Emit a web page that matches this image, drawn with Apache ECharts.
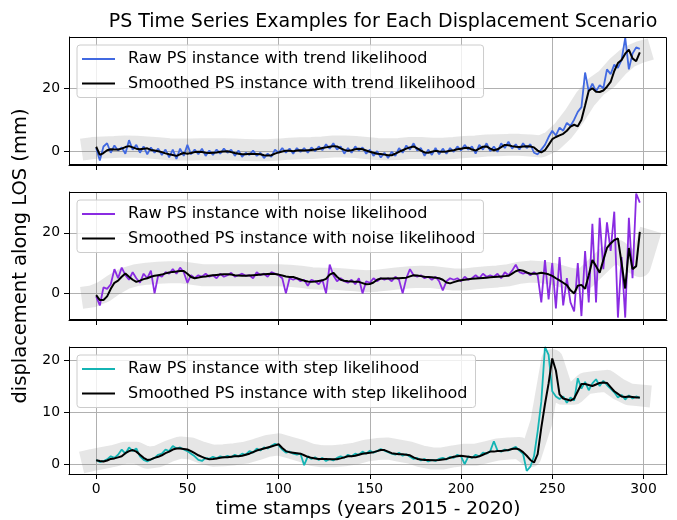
<!DOCTYPE html>
<html><head><meta charset="utf-8">
<script src="https://cdn.jsdelivr.net/npm/echarts@6/dist/echarts.min.js"></script>
<style>html,body{margin:0;padding:0;background:#fff}#c{width:677px;height:520px}</style>
</head><body><div id="c"></div>
<script>
// ---------- data ----------
const timeStamps = [
0,2,4,6,8,10,12,14,16,18, 20,22,24,26,28,30,32,34,36,38,
40,42,44,46,48,50,52,54,56,58, 60,62,64,66,68,70,72,74,76,78,
80,82,84,86,88,90,92,94,96,98, 100,102,104,106,108,110,112,114,116,118,
120,122,124,126,128,130,132,134,136,138, 140,142,144,146,148,150,152,154,156,158,
160,162,164,166,168,170,172,174,176,178, 180,182,184,186,188,190,192,194,196,198,
200,202,204,206,208,210,212,214,216,218, 220,222,224,226,228,230,232,234,236,238,
240,242,244,246,248,250,252,254,256,258, 260,262,264,266,268,270,272,274,276,278,
280,282,284,286,288,290,292,294,296,298];

const rawTrend = [
1.0,-3.0,1.5,2.5,-0.5,1.8,0.2,1.2,-0.8,3.5,
0.5,2.0,-0.5,1.5,-1.0,1.2,-0.5,0.8,-1.2,0.5,
-2.0,0.5,-2.5,0.8,-1.5,2.0,-1.0,0.5,-1.0,0.8,
-1.5,0.2,-1.2,0.5,-0.8,0.8,-0.5,0.5,-1.5,0.2,
-1.8,-0.5,-1.2,0.2,-1.5,-0.5,-2.2,-0.8,-1.8,0.5,
-0.5,1.0,-0.5,0.8,-0.8,1.0,-0.2,1.0,-0.5,1.2,
0.0,1.5,0.3,2.2,0.8,2.5,0.5,1.5,-0.8,1.0,
-0.5,1.5,0.2,1.2,-0.8,0.5,-1.5,0.0,-2.0,-0.5,
-2.2,-0.2,-1.5,1.0,-0.5,1.8,0.5,2.5,0.2,1.0,
-1.5,0.5,-1.2,1.0,-1.0,0.8,-0.8,1.0,-0.2,1.5,
0.2,2.0,0.5,1.5,-0.8,2.0,0.5,2.5,0.0,1.5,
-0.2,2.5,1.0,3.0,0.8,2.2,0.5,2.5,1.0,2.2,
-0.5,-1.0,0.5,2.0,4.5,6.5,5.0,7.5,6.5,9.0,
8.0,10.0,12.5,14.0,25.0,19.0,21.5,19.0,21.0,20.0,
26.0,24.5,27.5,26.5,29.0,36.0,26.0,31.0,33.0,32.5];

const smoothTrend = [
1.4,-1.2,-0.6,0.3,0.6,0.5,0.5,0.8,1.3,1.6,
1.2,0.8,0.6,0.8,0.9,0.4,0.2,0.0,-0.3,-0.7,
-1.0,-1.2,-1.5,-1.0,-0.6,-0.8,-0.6,-0.3,-0.2,-0.3,
-0.5,-0.6,-0.5,-0.4,-0.2,-0.1,0.0,-0.3,-0.6,-0.8,
-1.0,-1.0,-0.8,-0.9,-0.9,-1.0,-1.3,-1.4,-1.3,-0.8,
-0.4,-0.1,0.1,0.1,0.0,0.2,0.3,0.2,0.3,0.4,
0.5,0.7,1.0,1.2,1.4,1.6,1.5,0.9,0.4,0.1,
0.3,0.6,0.8,0.6,0.2,-0.2,-0.5,-0.8,-0.9,-1.1,
-1.3,-1.3,-0.8,-0.2,0.3,0.8,1.2,1.5,0.9,0.2,
-0.4,-0.5,-0.2,0.1,-0.1,-0.2,-0.1,0.1,0.3,0.6,
0.8,1.0,1.1,0.5,0.2,0.8,1.4,1.5,0.8,0.3,
0.6,1.3,2.0,1.9,1.6,1.4,1.3,1.5,1.6,1.5,
1.2,0.2,-0.4,0.3,2.0,3.8,4.5,5.0,5.5,6.5,
7.8,8.4,7.9,10.0,14.5,19.2,20.0,18.9,18.8,19.3,
20.5,22.0,25.5,28.0,29.0,31.0,32.3,29.5,28.6,31.4];

const rawNoise = [
-1.0,-4.0,2.0,1.5,3.0,8.0,5.0,8.5,6.0,4.5,
7.0,5.0,3.5,6.5,5.0,7.5,0.0,6.0,5.5,7.0,
6.5,8.0,6.5,8.5,7.0,3.5,6.0,5.0,6.0,5.5,
6.5,5.5,6.0,5.0,6.5,5.5,6.0,6.8,5.5,6.0,
6.5,5.8,6.0,5.0,7.0,6.0,6.5,5.5,7.0,6.5,
6.0,5.0,0.0,5.0,4.5,5.0,4.0,4.5,2.5,4.5,
4.0,3.0,4.5,0.0,9.5,6.0,4.0,5.0,4.0,3.5,
4.5,3.0,5.0,0.0,4.0,3.5,5.0,4.0,5.0,4.5,
5.0,4.0,5.5,4.5,0.0,5.0,8.0,6.0,5.5,6.0,
5.0,5.5,4.5,5.5,4.0,1.0,4.0,5.0,4.5,5.0,
4.0,5.5,4.5,5.0,6.0,5.0,6.5,5.5,6.0,5.5,
6.5,5.0,7.0,6.0,7.5,9.5,7.0,6.5,7.0,6.0,
7.0,6.0,-3.0,11.0,-2.0,10.0,-5.0,12.0,-4.0,5.0,
-3.0,-6.0,10.0,-7.5,14.0,-3.0,23.0,-3.0,25.0,8.0,
23.5,14.0,27.0,-8.0,12.0,-8.0,25.0,5.0,33.0,30.0];

const smoothNoise = [
-0.6,-2.2,-2.2,-1.0,1.5,3.5,4.2,5.5,6.6,5.5,
4.5,3.8,4.2,4.7,5.0,5.5,5.8,6.0,6.2,6.6,
6.9,7.1,7.2,7.4,7.4,6.5,5.4,5.0,5.2,5.5,
5.6,5.8,6.0,6.1,6.2,6.3,6.3,6.2,6.0,5.9,
5.8,5.8,5.9,6.0,6.1,6.2,6.3,6.4,6.5,6.4,
6.2,5.9,5.6,5.4,5.4,5.0,4.6,4.2,3.9,3.8,
3.9,4.1,4.3,4.8,6.2,6.8,5.5,4.5,4.2,4.0,
3.9,3.8,3.8,3.4,3.0,3.1,3.6,4.5,4.9,4.9,
4.9,4.9,5.0,5.0,5.1,5.2,5.6,6.0,5.9,5.7,
5.5,5.4,5.3,5.2,5.0,4.5,3.6,3.3,3.7,4.1,
4.3,4.5,4.7,4.8,4.9,5.0,5.1,5.2,5.3,5.4,
5.5,5.6,5.7,5.8,6.5,7.3,7.7,7.5,6.9,6.5,
6.5,6.6,6.8,6.6,6.3,5.8,5.0,4.3,3.5,2.7,
1.0,0.0,2.5,2.8,1.5,6.0,11.0,9.0,6.8,11.0,
15.0,16.5,17.6,18.2,10.0,1.6,15.0,8.0,9.0,20.3];

const rawStep = [
0.8,0.4,0.6,0.9,1.5,1.2,1.8,2.8,2.0,3.2,
2.5,3.0,1.5,0.8,0.5,0.9,1.2,1.8,2.0,2.8,
2.5,3.5,3.0,3.2,2.8,2.5,2.0,1.5,0.8,0.6,
1.2,1.0,1.4,1.1,1.5,1.3,1.6,1.3,1.8,1.5,
2.0,1.8,2.5,2.2,3.0,2.6,3.2,3.0,3.5,3.9,
3.6,2.8,2.2,2.4,2.0,1.8,2.0,-0.2,1.5,1.0,
1.3,0.8,1.2,0.6,1.0,0.7,1.2,1.5,1.2,1.8,
1.5,2.0,1.8,2.4,2.0,2.6,2.2,2.5,2.9,2.6,
2.3,2.0,1.8,2.2,1.6,1.9,1.4,1.0,1.2,0.7,
1.0,0.5,0.8,0.6,1.0,1.2,0.9,1.4,1.2,1.8,
1.5,0.0,1.5,1.2,1.8,1.5,2.2,2.0,2.5,4.4,
2.6,2.4,2.8,2.6,3.0,3.3,2.6,2.0,-1.3,-0.5,
1.5,6.3,12.0,22.5,21.0,14.0,13.0,12.5,13.0,11.8,
12.8,12.2,16.5,14.5,15.8,14.2,15.5,16.3,15.0,16.0,
15.2,14.5,13.8,12.8,13.3,12.4,13.2,12.6,13.0,12.7];

const smoothStep = [
0.76,0.6,0.5,0.7,1.0,1.1,1.3,1.5,2.1,2.5,
2.7,2.4,1.8,1.2,0.8,0.9,1.2,1.4,1.7,2.1,
2.4,2.8,3.0,3.0,2.9,2.8,2.5,2.1,1.7,1.4,
1.1,0.95,1.0,1.1,1.2,1.3,1.3,1.4,1.5,1.5,
1.6,1.8,2.0,2.3,2.6,2.8,3.0,3.2,3.4,3.6,
3.8,3.1,2.5,2.3,2.2,2.1,2.0,1.7,1.4,1.2,
1.1,1.0,1.0,1.0,0.95,0.95,0.95,1.1,1.3,1.5,
1.5,1.6,1.8,2.0,2.1,2.2,2.3,2.5,2.7,2.7,
2.4,2.1,2.0,1.9,1.9,1.8,1.7,1.3,1.0,0.9,
0.8,0.8,0.76,0.76,0.8,0.9,1.0,1.2,1.4,1.5,
1.6,1.5,1.4,1.3,1.3,1.5,1.8,2.1,2.4,2.4,
2.5,2.5,2.6,2.7,2.9,3.0,2.8,2.3,1.6,0.8,
0.3,1.9,7.0,11.5,15.5,20.3,18.0,13.4,12.6,12.4,
12.2,12.6,14.0,15.4,15.4,15.2,15.0,15.3,15.6,15.7,
15.6,14.8,14.0,13.5,13.0,12.9,13.0,12.9,12.8,12.8];

// grey envelope drawn behind each panel
const bandX = [-8,-2,4,10,16,22,28,34,40,46,52,58,64,70,76,82,88,94,100,106,112,118,124,130,136,142,148,154,160,166,172,178,184,190,196,202,208,214,220,226,232,238,244,250,256,262,268,274,280,286,292,298,304];
const bandTrend = [0.5,1.0,1.2,1.3,1.5,1.4,1.2,0.9,0.6,0.5,0.5,0.6,0.6,0.6,0.5,0.4,0.3,0.3,0.5,0.8,0.9,1.0,1.2,1.5,1.5,1.3,1.0,0.7,0.6,0.7,1.0,1.0,0.8,0.8,1.0,1.3,1.5,1.8,1.9,2.0,2.0,1.8,1.5,3.2,6.5,11.0,16.5,20.5,23.0,27.0,30.0,31.5,32.5];
const bandNoise = [-1.5,-1.0,0.5,3.0,5.0,6.0,6.5,6.8,7.0,7.0,6.5,6.0,6.0,6.0,6.0,6.0,6.0,6.0,6.0,5.8,5.5,5.0,4.8,4.8,4.6,4.3,4.0,4.2,4.6,5.0,5.3,5.5,5.4,5.0,4.6,4.6,5.0,5.3,5.6,6.0,6.8,7.2,7.0,6.5,5.5,4.5,5.0,8.5,12.0,14.0,11.0,9.0,21.0];
const bandStep = [0.3,0.8,1.2,1.6,2.2,2.2,1.2,1.5,2.5,3.2,3.0,2.2,1.6,1.7,1.9,2.2,2.8,3.5,3.8,3.2,2.6,1.8,1.5,1.5,1.7,2.0,2.6,2.9,3.0,2.6,2.2,1.5,1.1,1.1,1.5,1.8,1.8,2.3,2.8,3.0,3.1,1.5,8.0,20.0,13.5,13.5,15.5,15.8,16.0,14.5,13.4,13.2,13.0];

const xTicks = [0,50,100,150,200,250,300];
const yTicks = [[0,20],[0,20],[0,10,20]];

const seriesNames = [
  ['Raw PS instance with trend likelihood','Smoothed PS instance with trend likelihood'],
  ['Raw PS instance with noise likelihood','Smoothed PS instance with noise likelihood'],
  ['Raw PS instance with step likelihood','Smoothed PS instance with step likelihood']
];
const rawSets = [rawTrend, rawNoise, rawStep];
const smoothSets = [smoothTrend, smoothNoise, smoothStep];
const bandSets = [bandTrend, bandNoise, bandStep];
const rawColors = ['#4169e1','#8a2be2','#14b4b4'];

// ---------- layout ----------
const FONT = 'DejaVu Sans';
const L = 69, W = 598, H = 128;
const tops = [37, 192, 347];
const yMin = [-4.4, -8.8, -1.9], yMax = [36.3, 33.5, 22.5];

function pairs(xs, ys){ return xs.map((x,i)=>[x, ys[i]]); }

const grids = [], xAxes = [], yAxes = [], series = [], legends = [], frames = [];
for (let i = 0; i < 3; i++) {
  grids.push({left: L, top: tops[i], width: W, height: H, containLabel: false});
  xAxes.push({
    type: 'value', gridIndex: i, min: -14.9, max: 312.9, splitNumber: 6,
    axisLine: {show: true, onZero: false, lineStyle: {color: '#000', width: 1}},
    axisTick: {show: true, inside: false, length: 5, customValues: xTicks, lineStyle: {color: '#000', width: 1}},
    axisLabel: {show: i === 2, customValues: xTicks, color: '#000', fontFamily: FONT, fontSize: 13.9, margin: 8},
    splitLine: {show: true, lineStyle: {color: '#b0b0b0', width: 1}},
    name: i === 2 ? 'time stamps (years 2015 - 2020)' : '',
    nameLocation: 'middle', nameGap: 26,
    nameTextStyle: {color: '#000', fontFamily: FONT, fontSize: 18.5}
  });
  yAxes.push({
    type: 'value', gridIndex: i, min: yMin[i], max: yMax[i], splitNumber: 2,
    axisLine: {show: true, onZero: false, lineStyle: {color: '#000', width: 1}},
    axisTick: {show: true, inside: false, length: 5, customValues: yTicks[i], lineStyle: {color: '#000', width: 1}},
    axisLabel: {show: true, customValues: yTicks[i], color: '#000', fontFamily: FONT, fontSize: 13.9, margin: 9},
    splitLine: {show: true, lineStyle: {color: '#b0b0b0', width: 1}},
    name: i === 1 ? 'displacement along LOS (mm)' : '',
    nameLocation: 'middle', nameGap: 31,
    nameTextStyle: {color: '#000', fontFamily: FONT, fontSize: 19.5}
  });
  series.push({
    type: 'line', xAxisIndex: i, yAxisIndex: i, data: pairs(bandX, bandSets[i]),
    symbol: 'none', silent: true, z: 1,
    lineStyle: {width: 22, color: 'rgba(128,128,128,0.2)', cap: 'butt', join: 'round'}
  });
  series.push({
    type: 'line', name: seriesNames[i][0], xAxisIndex: i, yAxisIndex: i,
    data: pairs(timeStamps, rawSets[i]), symbol: 'none', z: 2,
    lineStyle: {width: 1.8, color: rawColors[i]}, itemStyle: {color: rawColors[i]}
  });
  series.push({
    type: 'line', name: seriesNames[i][1], xAxisIndex: i, yAxisIndex: i,
    data: pairs(timeStamps, smoothSets[i]), symbol: 'none', z: 3,
    lineStyle: {width: 2, color: '#000'}, itemStyle: {color: '#000'}
  });
  legends.push({
    data: seriesNames[i], orient: 'vertical', left: 77, top: tops[i] + 8,
    icon: 'rect', itemWidth: 33, itemHeight: 2, itemGap: 8.5, padding: [6, 8, 6, 5],
    borderColor: '#cccccc', borderWidth: 1, borderRadius: 3,
    backgroundColor: 'rgba(255,255,255,0.8)', selectedMode: false,
    textStyle: {color: '#000', fontFamily: FONT, fontSize: 16, lineHeight: 15, padding: [0, 0, 0, 8]}
  });
  frames.push({
    type: 'rect', z: 100, silent: true,
    shape: {x: L + 0.5, y: tops[i] + 0.5, width: W - 1, height: H - 1},
    style: {fill: 'none', stroke: '#000', lineWidth: 1}
  });
}

const chart = echarts.init(document.getElementById('c'), null, {renderer: 'canvas'});
chart.setOption({
  animation: false,
  backgroundColor: '#fff',
  title: {
    text: 'PS Time Series Examples for Each Displacement Scenario',
    left: 378, top: 8, textAlign: 'center',
    textStyle: {color: '#000', fontFamily: FONT, fontSize: 19, fontWeight: 'normal'}
  },
  grid: grids, xAxis: xAxes, yAxis: yAxes, legend: legends, series: series,
  graphic: frames
});
</script></body></html>
